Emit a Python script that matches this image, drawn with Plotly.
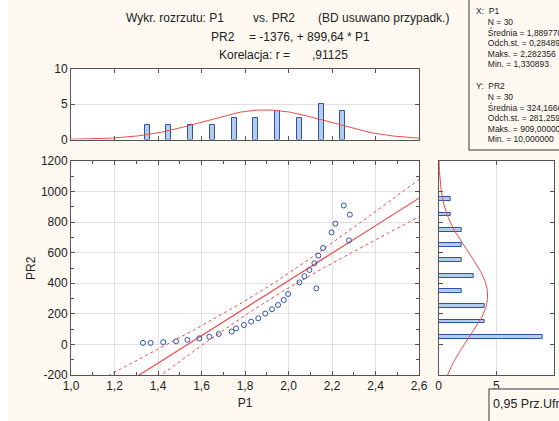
import numpy as np
import plotly.graph_objects as go

# ---------------- data ----------------
p1 = [1.331, 1.366, 1.424, 1.483, 1.535, 1.590, 1.636, 1.679, 1.739, 1.759,
      1.795, 1.828, 1.861, 1.893, 1.924, 1.952, 1.978, 1.998, 2.050, 2.073,
      2.096, 2.119, 2.128, 2.137, 2.159, 2.198, 2.215, 2.254, 2.282, 2.278]
pr2 = [10, 10, 15, 20, 30, 40, 50, 68, 84, 105,
       127, 149, 171, 202, 230, 258, 291, 330, 406, 446,
       487, 531, 367, 581, 631, 733, 790, 909, 849, 681]

histx_centers = [1.35, 1.45, 1.55, 1.65, 1.75, 1.85, 1.95, 2.05, 2.15, 2.25]
histx_counts = [2, 2, 2, 2, 3, 3, 4, 3, 5, 4]
histy_centers = [50, 150, 250, 350, 450, 550, 650, 750, 850, 950]
histy_counts = [9, 4, 4, 2, 3, 2, 2, 2, 1, 1]

x_ticks = [1.0, 1.2, 1.4, 1.6, 1.8, 2.0, 2.2, 2.4, 2.6]
x_ticklabels = ["1,0", "1,2", "1,4", "1,6", "1,8", "2,0", "2,2", "2,4", "2,6"]
y_ticks = [-200, 0, 200, 400, 600, 800, 1000, 1200]
y_ticklabels = ["-200", "0", "200", "400", "600", "800", "1000", "1200"]
h_ticks = [0, 5, 10]
h_ticklabels = ["0", "5", "10"]

stats_lines = ["X:  P1", "     N = 30", "     Średnia = 1,889770", "     Odch.st. = 0,284893",
               "     Maks. = 2,282356", "     Min. = 1,330893", "",
               "Y:  PR2", "     N = 30", "     Średnia = 324,166667", "     Odch.st. = 281,259000",
               "     Maks. = 909,000000", "     Min. = 10,000000"]

# ---------------- derived ----------------
x = np.array(p1, float)
y = np.array(pr2, float)
n = len(x)
b, a = np.polyfit(x, y, 1)
xbar, ybar = x.mean(), y.mean()
sx, sy = x.std(ddof=1), y.std(ddof=1)
resid = y - (a + b * x)
s = np.sqrt((resid ** 2).sum() / (n - 2))
sxx = ((x - xbar) ** 2).sum()
tval = 2.048
xl = np.linspace(1.0, 2.6, 200)
yl = a + b * xl
hw = tval * s * np.sqrt(1 / n + (xl - xbar) ** 2 / sxx)

W, H = 559, 421
def px(v): return v / W
def py(v): return (H - v) / H

RED = "#ee4a4a"
BLUE = "#2f52a8"
BARFILL = "#b3cdec"
TXT = "#222222"
FONT = "Liberation Sans, Arial, sans-serif"
AX = "#555555"
GRID = "#e2e2e2"
BG = "#fdf9f1"

fig = go.Figure()

# main scatter
fig.add_trace(go.Scatter(x=xl, y=yl + hw, mode="lines", line=dict(color=RED, width=1, dash="dot"),
                         xaxis="x", yaxis="y", hoverinfo="skip"))
fig.add_trace(go.Scatter(x=xl, y=yl - hw, mode="lines", line=dict(color=RED, width=1, dash="dot"),
                         xaxis="x", yaxis="y", hoverinfo="skip"))
fig.add_trace(go.Scatter(x=xl, y=yl, mode="lines", line=dict(color=RED, width=1.2),
                         xaxis="x", yaxis="y"))
fig.add_trace(go.Scatter(x=p1, y=pr2, mode="markers",
                         marker=dict(symbol="circle-open", size=5, color=BLUE, line=dict(width=1, color=BLUE)),
                         xaxis="x", yaxis="y"))

# top histogram
fig.add_trace(go.Bar(x=histx_centers, y=histx_counts, width=0.022,
                     marker=dict(color=BARFILL, line=dict(color=BLUE, width=1)),
                     xaxis="x2", yaxis="y2"))
xn = np.linspace(1.0, 2.6, 200)
yn = n * 0.1 / (sx * np.sqrt(2 * np.pi)) * np.exp(-0.5 * ((xn - xbar) / sx) ** 2)
fig.add_trace(go.Scatter(x=xn, y=yn, mode="lines", line=dict(color=RED, width=1), xaxis="x2", yaxis="y2"))

# right histogram
fig.add_trace(go.Bar(y=histy_centers, x=histy_counts, width=26, orientation="h",
                     marker=dict(color=BARFILL, line=dict(color=BLUE, width=1)),
                     xaxis="x3", yaxis="y3"))
yy = np.linspace(-200, 1200, 200)
xx = n * 100 / (sy * np.sqrt(2 * np.pi)) * np.exp(-0.5 * ((yy - ybar) / sy) ** 2)
fig.add_trace(go.Scatter(x=xx, y=yy, mode="lines", line=dict(color=RED, width=1), xaxis="x3", yaxis="y3"))

common = dict(showline=True, linecolor=AX, linewidth=1, mirror="ticks", ticks="inside",
              tickcolor=AX, ticklen=4, gridcolor=GRID, gridwidth=1, zeroline=False,
              automargin=False, tickfont=dict(family=FONT, size=12, color=TXT), fixedrange=True)

fig.update_layout(
    width=W, height=H, template="none",
    margin=dict(l=0, r=0, t=0, b=0),
    paper_bgcolor=BG, plot_bgcolor="#ffffff",
    showlegend=False, bargap=0,
    xaxis=dict(domain=[px(71), px(419)], range=[1.0, 2.6], tickvals=x_ticks, ticktext=x_ticklabels,
               showgrid=True, minor=dict(ticks="inside", dtick=0.1, tick0=1.0, ticklen=3, tickcolor=AX, showgrid=False),
               title=dict(text="P1", font=dict(family=FONT, size=12, color=TXT), standoff=6), **common),
    yaxis=dict(domain=[py(375), py(161)], range=[-200, 1200], tickvals=y_ticks, ticktext=y_ticklabels,
               showgrid=True, minor=dict(ticks="inside", dtick=100, tick0=0, ticklen=3, tickcolor=AX, showgrid=False),
               **common),
    xaxis2=dict(domain=[px(71), px(419)], range=[1.0, 2.6], tickvals=x_ticks, showticklabels=False,
                showgrid=False, anchor="y2", **common),
    yaxis2=dict(domain=[py(139.5), py(69)], range=[0, 10], tickvals=h_ticks, ticktext=h_ticklabels,
                showgrid=True, anchor="x2", **common),
    xaxis3=dict(domain=[px(438.7), px(554)], range=[0, 10], tickvals=h_ticks, ticktext=h_ticklabels,
                showgrid=True, anchor="y3", **common),
    yaxis3=dict(domain=[py(375), py(161)], range=[-200, 1200], tickvals=y_ticks, showticklabels=False,
                showgrid=False, anchor="x3", **common),
)

ann = []
def t(text, xp, yp, size=12, anchor="left"):
    ann.append(dict(text=text, x=px(xp), y=py(yp), xref="paper", yref="paper", xanchor=anchor,
                    yanchor="middle", showarrow=False, font=dict(family=FONT, size=size, color=TXT)))

t("Wykr. rozrzutu: P1", 124, 18)
t("vs. PR2", 251, 18)
t("(BD usuwano przypadk.)", 316, 18)
t("PR2", 209, 37)
t("= -1376, + 899,64 * P1", 247, 37)
t("Korelacja: r =", 217, 55)
t(",91125", 310, 55)
ann.append(dict(text="PR2", x=px(22), y=py(268), xref="paper", yref="paper", textangle=-90,
                showarrow=False, font=dict(family=FONT, size=12, color=TXT)))

for i, line in enumerate(stats_lines):
    if line:
        t(line.replace(" ", "\u00a0"), 474, 11 + i * 10.7, size=8.5)

t("0,95 Prz.Ufn.", 491, 404, size=12.5)
fig.update_layout(annotations=ann)

fig.update_layout(shapes=[
    dict(type="rect", xref="paper", yref="paper", x0=px(469), x1=px(620), y0=py(150), y1=py(-5),
         line=dict(color="#777777", width=1.5), fillcolor="rgba(0,0,0,0)", layer="above"),
    dict(type="rect", xref="paper", yref="paper", x0=px(489), x1=px(620), y0=py(440), y1=py(389),
         line=dict(color="#777777", width=1.5), fillcolor=BG, layer="above"),
    dict(type="rect", xref="paper", yref="paper", x0=0, x1=px(8), y0=0, y1=1,
         line=dict(width=0), fillcolor="#ffffff", layer="below"),
])

fig.write_html("out.html", config={"displayModeBar": False},
               post_script="document.body.style.margin='0';document.body.style.overflow='hidden';")
